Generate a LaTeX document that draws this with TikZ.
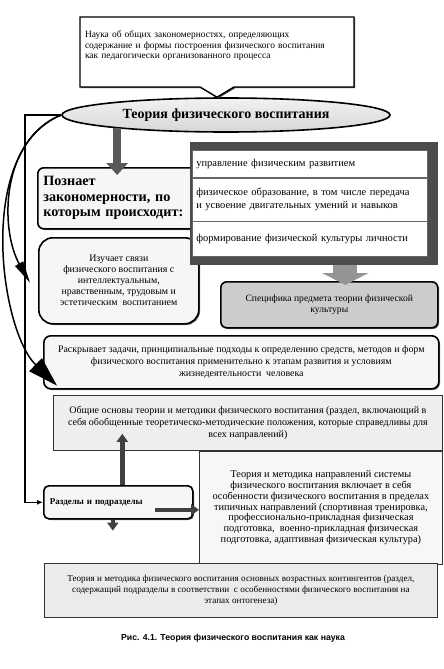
\documentclass[tikz,border=0pt]{standalone}
\usepackage{fontspec}
\setmainfont{Liberation Serif}
\newfontfamily\captionsans{Liberation Sans}
\usepackage{xcolor}
\usepackage{tikz}
\usetikzlibrary{calc,arrows.meta,positioning}
\usetikzlibrary{shapes.geometric,shapes.callouts,shadows}

\begin{document}
\begin{tikzpicture}[
    x=1pt, y=-1pt,
    every node/.style={font=\fontsize{9}{10.6}\selectfont},
    note/.style={
        rectangle callout,
        draw,
        line width=1.4pt,
        fill=white,
        align=left,
        inner sep=4pt,
        font=\fontsize{9.45}{10.8}\selectfont,
        drop shadow={shadow xshift=1.2pt,shadow yshift=-1.2pt,fill=black!70,opacity=1}
    },
    theory/.style={
        ellipse,
        draw,
        line width=1.6pt,
        top color=gray!10,
        bottom color=gray!32,
        inner sep=0pt,
        font=\fontsize{14}{16}\selectfont\bfseries
    },
    block/.style={
        rectangle,
        rounded corners=7pt,
        draw,
        line width=1.6pt,
        fill=gray!7,
        align=center,
        drop shadow={shadow xshift=1.2pt,shadow yshift=-1.2pt,fill=black!60,opacity=1}
    },
    partbox/.style={
        rectangle,
        draw=black!80,
        line width=0.8pt,
        fill=gray!13,
        align=center
    },
    rowbox/.style={
        rectangle,
        draw=black!60,
        line width=0.6pt,
        fill=white,
        align=left,
        text width=227pt,
        inner xsep=4pt,
        font=\fontsize{10.5}{12.8}\selectfont
    },
    panelframe/.style={
        rectangle,
        fill=black!70,
        inner sep=0pt
    },
    link/.style={
        line width=1.5pt
    },
    fatarrow/.style={
        -{Triangle[length=12pt,width=21pt]},
        line width=8pt,
        draw=black!65
    },
    widearrow/.style={
        -{Triangle[length=12pt,width=46pt]},
        line width=24pt,
        draw=black!42
    },
    shortarrow/.style={
        -{Triangle[length=8pt,width=11pt]},
        line width=4.5pt,
        draw=black!75
    }
]

\useasboundingbox (0,0) rectangle (444,669);

% =========================================================
% TOP: THEORY AND ITS DEFINITION
% =========================================================

\node[theory, minimum width=328pt, minimum height=34pt] (title) at (226,115) {
Теория физического воспитания
};

\node[note,
    minimum width=274pt,
    minimum height=70pt,
    text width=264pt,
    text depth=36pt,
    callout absolute pointer={([xshift=-9pt]title.north)},
    callout pointer width=34pt] (science) at (217,52) {
Наука об общих закономерностях, определяющих\\
содержание и формы построения физического воспитания\\
как педагогически организованного процесса
};


% =========================================================
% MIDDLE: LAWS, LINKS, SPECIFICS
% =========================================================

\node[block, rounded corners=6pt, anchor=north west,
    minimum width=163pt, minimum height=61pt,
    align=left, text width=152pt, inner xsep=4pt,
    font=\fontsize{14.2}{15.5}\selectfont\bfseries] (laws) at (37,167) {
Познает\\
закономерности, по\\
которым происходит:
};

\node[block, rounded corners=14pt, anchor=north west,
    minimum width=160pt, minimum height=86pt,
    font=\fontsize{9.9}{11}\selectfont] (links) at (38,237) {
Изучает связи\\
физического воспитания с\\
интеллектуальным,\\
нравственным, трудовым и\\
эстетическим \ воспитанием
};

\node[panelframe, anchor=north west,
    minimum width=248pt, minimum height=123pt] (panel) at (190,142) {};

\node[rowbox, anchor=north west, minimum height=27pt] (row1) at (192,150) {
управление физическим развитием
};

\node[rowbox, below=0pt of row1, minimum height=43pt] (row2) {
физическое образование, в том числе передача\\
и усвоение двигательных умений и навыков
};

\node[rowbox, below=0pt of row2, minimum height=35pt] (row3) {
формирование физической культуры личности
};

\node[block, rounded corners=6pt, fill=gray!40, anchor=north west,
    minimum width=217pt, minimum height=46pt,
    font=\fontsize{9.6}{11}\selectfont] (specific) at (220,281) {
Специфика предмета теории физической\\
культуры
};


% =========================================================
% LOWER PART: TASKS AND SECTIONS
% =========================================================

\node[block, anchor=north west,
    minimum width=395pt, minimum height=53pt,
    font=\fontsize{9.9}{12}\selectfont] (tasks) at (43,335) {
Раскрывает задачи, принципиальные подходы к определению средств, методов и форм\\
физического воспитания применительно к этапам развития и условиям\\
жизнедеятельности \ человека
};

\node[partbox, anchor=north west,
    minimum width=389pt, minimum height=55pt,
    font=\fontsize{10}{11.6}\selectfont] (general) at (53,395) {
Общие основы теории и методики физического воспитания (раздел, включающий в\\
себя обобщенные теоретическо-методические положения, которые справедливы для\\
всех направлений)
};

\node[partbox, fill=gray!6, anchor=north east,
    minimum width=243pt, minimum height=113pt,
    font=\fontsize{10.3}{10.8}\selectfont] (branches) at (general.south east) {
Теория и методика направлений системы\\
физического воспитания включает в себя\\
особенности физического воспитания в пределах\\
типичных направлений (спортивная тренировка,\\
профессионально-прикладная физическая\\
подготовка, \ военно-прикладная физическая\\
подготовка, адаптивная физическая культура)
};

\node[partbox, fill=gray!16, anchor=north west,
    minimum width=393pt, minimum height=54pt,
    font=\fontsize{9.15}{11}\selectfont] (ages) at (44,563) {
Теория и методика физического воспитания основных возрастных контингентов (раздел,\\
содержащий подразделы в соответствии \ с особенностями физического воспитания на\\
этапах онтогенеза)
};

\node[block, rounded corners=5pt, anchor=north west,
    minimum width=149pt, minimum height=33pt,
    align=left, text width=137pt, inner xsep=6pt,
    font=\fontsize{9}{10}\selectfont\bfseries] (sections) at (43,485) {
Разделы и подразделы
};

\node[font=\captionsans\bfseries\fontsize{8.7}{10}\selectfont] (caption) at (233,638) {
Рис. 4.1. Теория физического воспитания как наука
};


% =========================================================
% CONNECTORS
% =========================================================

\coordinate (spine) at (25,0);
\coordinate (subgroups) at ([xshift=-5.5pt,yshift=-11pt]sections.south);

% Left bracket down to the sections
\draw[link, -{Latex[length=6pt,width=5pt]}]
    (title.west) -- (title.west -| spine) |- (sections.west);

% Curved links from the theory
\draw[link, -{Triangle[length=22pt,width=9pt]}]
    (title.west) .. controls (0,140) and (0,230) .. ([xshift=-8pt,yshift=-2pt]links.west);

\draw[link, -{Triangle[length=30pt,width=18pt]}]
    (title.west) .. controls (-25,150) and (0,330) .. ([xshift=14pt,yshift=4pt]tasks.south west);

% Theory -> laws
\draw[fatarrow, shorten >=-8pt]
    (title.187) -- (title.187 |- laws.north);

% Laws -> specific
\draw[widearrow, shorten >=-4pt]
    ([xshift=16pt]specific.north |- panel.south) -- ([xshift=16pt]specific.north);

% Sections
\draw[shortarrow, shorten >=-17pt]
    ([xshift=4pt]sections.north) -- ([xshift=4pt]sections.north |- general.south);

\draw[shortarrow]
    ([xshift=-39pt,yshift=-7.5pt]sections.east) -- ([yshift=-7.5pt]sections.east -| branches.west);

\draw[shortarrow]
    ([xshift=-5.5pt]sections.south) -- (subgroups);

\end{tikzpicture}
\end{document}
